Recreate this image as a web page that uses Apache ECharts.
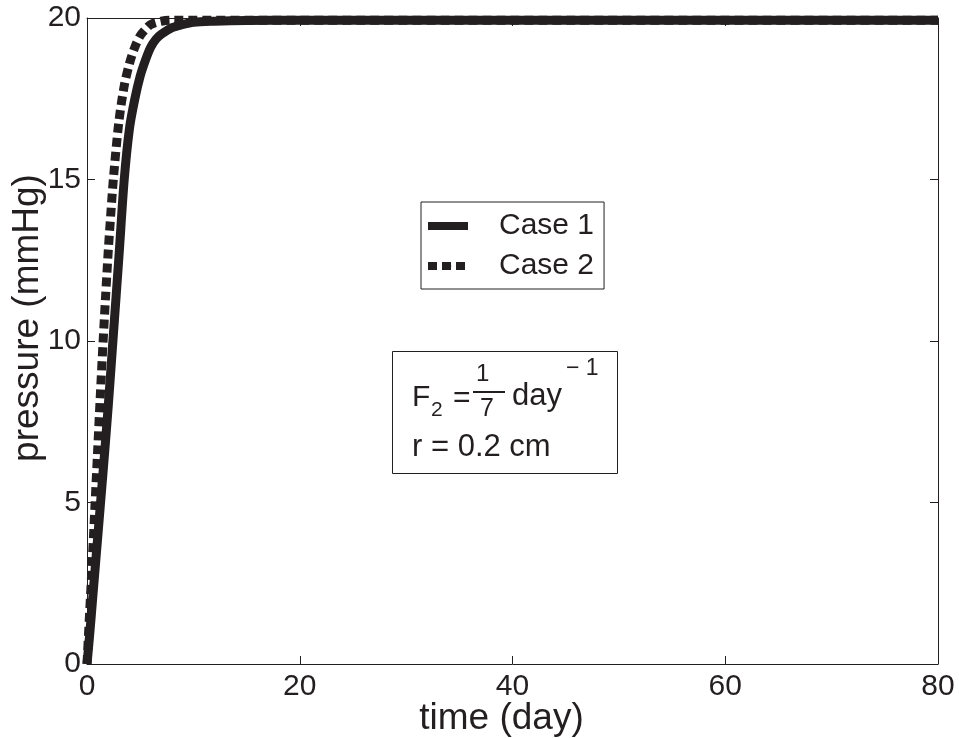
<!DOCTYPE html>
<html>
<head>
<meta charset="utf-8">
<script src="https://cdn.jsdelivr.net/npm/echarts@6/dist/echarts.min.js"></script>
<style>
html,body{margin:0;padding:0;background:#fff;}
#chart{width:959px;height:738px;}
</style>
</head>
<body>
<div id="chart"></div>
<script>
var case1Days = [0, 0.25, 0.5, 0.75, 1.0, 1.5, 2.0, 2.5, 3.0, 3.5, 4.0, 4.5, 5.0, 5.5, 6.0, 6.5, 7.0, 8.0, 9.0, 10, 12, 15, 20, 40, 80];
var case1Pressure = [0, 0.9, 1.9, 2.9, 3.9, 5.9, 8.0, 10.3, 12.6, 15.0, 16.6, 17.5, 18.2, 18.7, 19.1, 19.35, 19.5, 19.7, 19.8, 19.87, 19.9, 19.92, 19.93, 19.93, 19.93];
var case2Days = [0, 0.25, 0.5, 0.75, 1.0, 1.25, 1.5, 1.75, 2.0, 2.25, 2.5, 3.0, 3.5, 4.0, 4.5, 5.0, 5.5, 6.0, 7.0, 8.0, 20, 40, 80];
var case2Pressure = [0, 1.6, 3.2, 4.9, 6.6, 8.3, 9.9, 11.4, 12.8, 14.0, 15.1, 16.8, 17.9, 18.6, 19.1, 19.45, 19.65, 19.8, 19.9, 19.93, 19.93, 19.93, 19.93];
var seriesNames = ['Case 1', 'Case 2'];
var xTicks = [0, 20, 40, 60, 80];
var yTicks = [0, 5, 10, 15, 20];

function pairs(xs, ys) { return xs.map(function (x, i) { return [x, ys[i]]; }); }

var ink = '#231f20';
var font = '"Liberation Sans", Arial, Helvetica, sans-serif';

var chart = echarts.init(document.getElementById('chart'), null, {renderer: 'canvas'});

function axisCommon(extra) {
  var base = {
    type: 'value',
    axisLine: {show: true, onZero: false, lineStyle: {color: ink, width: 1}},
    axisTick: {show: true, inside: true, length: 8, lineStyle: {color: ink, width: 1}},
    splitLine: {show: false},
    axisLabel: {color: ink, fontSize: 30, fontFamily: font}
  };
  return Object.assign(base, extra);
}

var option = {
  backgroundColor: '#ffffff',
  animation: false,
  textStyle: {fontFamily: font, color: ink},
  grid: {left: 87, right: 21, top: 18, bottom: 74, containLabel: false, outerBoundsMode: 'none'},
  xAxis: [
    axisCommon({position: 'bottom', min: xTicks[0], max: xTicks[xTicks.length - 1], interval: 20,
      name: 'time (day)', nameLocation: 'middle', nameGap: 36, nameMoveOverlap: false,
      nameTextStyle: {color: ink, fontSize: 37, fontFamily: font, padding: [0, 22, 0, 0]},
      axisLabel: {color: ink, fontSize: 30, fontFamily: font, margin: 8}}),
    axisCommon({position: 'top', min: xTicks[0], max: xTicks[xTicks.length - 1], interval: 20,
      axisLabel: {show: false}})
  ],
  yAxis: [
    axisCommon({position: 'left', min: yTicks[0], max: yTicks[yTicks.length - 1], interval: 5,
      name: 'pressure (mmHg)', nameLocation: 'middle', nameGap: 41, nameMoveOverlap: false,
      nameTextStyle: {color: ink, fontSize: 37, fontFamily: font, padding: [0, 0, 0, 46]},
      axisLabel: {color: ink, fontSize: 30, fontFamily: font, margin: 6}}),
    axisCommon({position: 'right', min: yTicks[0], max: yTicks[yTicks.length - 1], interval: 5,
      axisLabel: {show: false}})
  ],
  legend: {
    orient: 'vertical',
    left: 421, top: 202,
    padding: [9, 10, 8, 3],
    itemGap: 10,
    itemWidth: 40,
    itemHeight: 8,
    borderColor: ink,
    borderWidth: 1,
    backgroundColor: '#fff',
    lineStyle: {width: 8},
    textStyle: {color: ink, fontSize: 30, fontFamily: font, lineHeight: 30, padding: [0, 0, 0, 26]},
    data: seriesNames
  },
  series: [
    {
      name: seriesNames[1], type: 'line', xAxisIndex: 0, yAxisIndex: 0,
      data: pairs(case2Days, case2Pressure),
      showSymbol: false, symbol: 'none', smooth: 0.3,
      lineStyle: {color: ink, width: 9, type: [9, 5], cap: 'butt'},
      itemStyle: {color: ink},
      z: 2
    },
    {
      name: seriesNames[0], type: 'line', xAxisIndex: 0, yAxisIndex: 0,
      data: pairs(case1Days, case1Pressure),
      showSymbol: false, symbol: 'none', smooth: 0.3,
      lineStyle: {color: ink, width: 9, type: 'solid'},
      itemStyle: {color: ink},
      z: 3
    }
  ],
  graphic: [
    {type: 'rect', left: 392, top: 351, shape: {width: 225, height: 122},
      style: {fill: '#fff', stroke: ink, lineWidth: 1}, z: 10},
    {type: 'text', x: 412, y: 383, z: 11, style: {text: 'F', font: '30px ' + font, fill: ink}},
    {type: 'text', x: 431, y: 400, z: 11, style: {text: '2', font: '21px ' + font, fill: ink}},
    {type: 'text', x: 453, y: 384, z: 11, style: {text: '=', font: '30px ' + font, fill: ink}},
    {type: 'text', x: 476, y: 362, z: 11, style: {text: '1', font: '24px ' + font, fill: ink}},
    {type: 'line', z: 11, shape: {x1: 473, y1: 392, x2: 505, y2: 392}, style: {stroke: ink, lineWidth: 2}},
    {type: 'text', x: 480, y: 397, z: 11, style: {text: '7', font: '25px ' + font, fill: ink}},
    {type: 'text', x: 512, y: 381, z: 11, style: {text: 'day', font: '31px ' + font, fill: ink}},
    {type: 'text', x: 566, y: 357, z: 11, style: {text: '\u2212 1', font: '23px ' + font, fill: ink}},
    {type: 'text', x: 412, y: 432, z: 11, style: {text: 'r = 0.2 cm', font: '31px ' + font, fill: ink}}
  ]
};
chart.setOption(option);
</script>
</body>
</html>
